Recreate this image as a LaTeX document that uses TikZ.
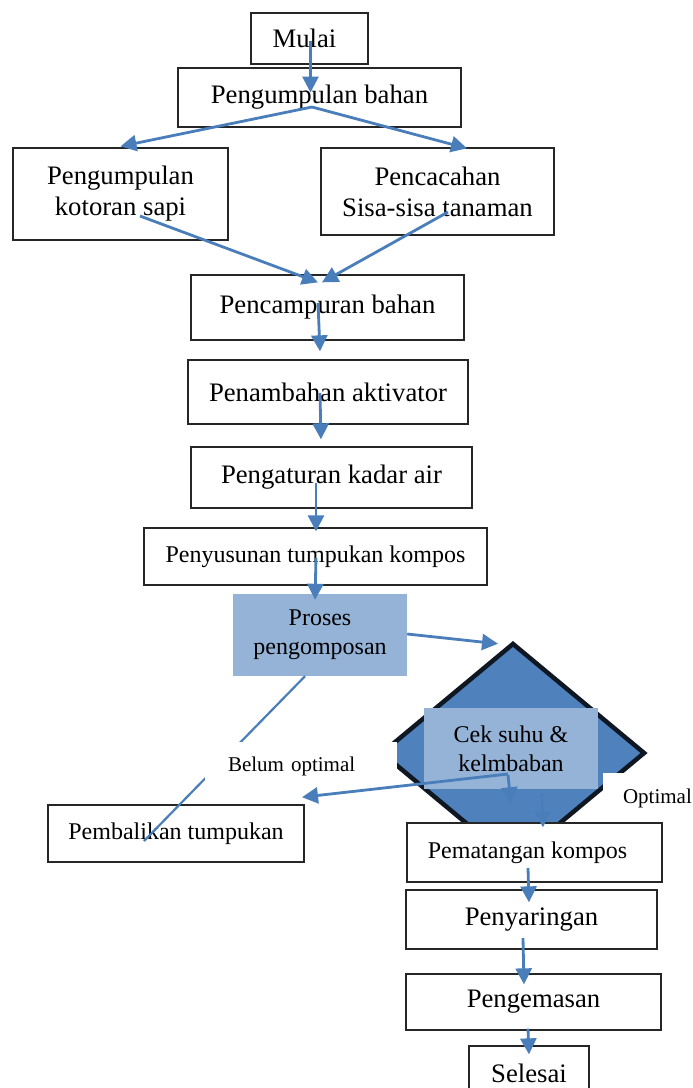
\documentclass[tikz,border=0pt]{standalone}
\usepackage{fontspec}
\setmainfont{Liberation Serif}
\usetikzlibrary{arrows.meta,shapes.geometric,calc}
\definecolor{garisbiru}{HTML}{4A7EBB}
\definecolor{birumuda}{HTML}{95B3D7}
\definecolor{birutua}{HTML}{4F81BD}
\definecolor{tepi}{HTML}{0F1722}
\newcommand{\besar}{\fontsize{26.7}{31}\selectfont}
\newcommand{\sedang}{\fontsize{24}{29}\selectfont}
\newcommand{\kecil}{\fontsize{21}{25}\selectfont}

\begin{document}
\begin{tikzpicture}[x=1pt,y=-1pt,
    kotak/.style={draw=black!85,line width=1.3pt,fill=white,inner sep=0pt,align=center,font=\besar},
    isian/.style={fill=birumuda,inner sep=0pt,align=center,font=\sedang},
    keterangan/.style={fill=white,inner ysep=0pt,align=left,font=\kecil},
    panah/.style={draw=garisbiru,line width=2.8pt,-{Triangle[length=16pt,width=16pt]}}]
    \useasboundingbox (0,0) rectangle (693,1088);

    % tahap awal
    \node [kotak,minimum width=117pt,minimum height=51pt] (mulai) at (309.5,38.5) {Mulai\hspace*{10pt}};
    \node [kotak,minimum width=283pt,minimum height=59pt] (bahan) at (319.5,97.5) {Pengumpulan bahan};
    \node [kotak,minimum width=215pt,minimum height=92pt] (kotoran) at (120.5,194) {Pengumpulan\\kotoran sapi};
    \node [kotak,minimum width=233pt,minimum height=87pt] (cacah) at (437.5,191.5) {Pencacahan\\Sisa-sisa tanaman};
    \node [kotak,minimum width=273pt,minimum height=65pt] (campur) at (327.5,307.5) {Pencampuran bahan};
    \node [kotak,minimum width=280pt,minimum height=64pt] (tambah) at (328,392) {Penambahan aktivator};
    \node [kotak,minimum width=281pt,minimum height=61pt] (kadar) at (331.5,477.5) {Pengaturan kadar air};
    \node [kotak,font=\sedang,minimum width=343pt,minimum height=57pt] (susun) at (315.5,556.5) {Penyusunan tumpukan kompos};

    % proses dan pengecekan
    \node [isian,minimum width=174pt,minimum height=82pt] (proses) at (320,635) {Proses\\pengomposan};
    \node [diamond,draw=tepi,line width=4.5pt,fill=birutua,inner sep=0pt,minimum width=264pt,minimum height=220pt] (ketupat) at (513,753) {};
    \node [isian,minimum width=174pt,minimum height=81pt] (cek) at (511,748.5) {Cek suhu \&\\kelmbaban};
    \node [kotak,font=\sedang,minimum width=256pt,minimum height=57pt] (balik) at (176,833.5) {Pembalikan tumpukan};
    \draw [draw=garisbiru,line width=2.2pt] ($(proses.south)+(-15,0)$) -- ($(balik.center)+(-32,7.5)$);
    \node [keterangan,text width=146pt,inner xsep=23pt,minimum height=48pt] (belum) at (301,766) {Belum optimal};
    \node [keterangan,text width=70pt,inner xsep=20pt,minimum height=50pt] (optimal) at (658,798) {Optimal};

    % tahap akhir
    \node [kotak,font=\sedang,minimum width=255pt,minimum height=59pt] (matang) at (534.5,852.5) {Pematangan kompos\hspace*{14pt}};
    \node [kotak,minimum width=251pt,minimum height=59pt] (saring) at (531.5,919.5) {Penyaringan};
    \node [kotak,minimum width=255pt,minimum height=56pt] (kemas) at (533.5,1002) {Pengemasan};
    \node [kotak,minimum width=120pt,minimum height=54pt] (selesai) at (529,1073) {Selesai};

    % panah
    \draw [panah] ($(mulai.center)+(1,2)$) -- ($(bahan.center)+(-9,-5)$);
    \draw [panah] ($(bahan.center)+(-7.5,9.5)$) -- ($(kotoran.north)+(0,-1)$);
    \draw [panah] ($(bahan.center)+(-7.5,9.5)$) -- ($(cacah.north)+(29.5,1)$);
    \draw [panah] ($(kotoran.center)+(19.5,22)$) -- ($(campur.north)+(-9.5,8)$);
    \draw [panah] ($(cacah.center)+(10.5,20.5)$) -- ($(campur.north)+(-5.5,8)$);
    \draw [panah] ($(campur.center)+(-9.5,-4.5)$) -- ($(tambah.north)+(-8,-8)$);
    \draw [panah] ($(tambah.center)+(-8,1)$) -- ($(kadar.north)+(-10.5,-7)$);
    \draw [panah] ($(kadar.center)+(-15.5,5.5)$) -- ($(susun.north)+(0.5,4)$);
    \draw [panah] ($(susun.center)+(0.5,1.5)$) -- ($(proses.north)+(-5,6)$);
    \draw [panah] ($(proses.east)+(0,-1)$) -- ($(ketupat.north)+(-15,3)$);
    \draw [panah] ($(cek.center)+(-3,25.5)$) -- ($(belum.south)+(1,7)$);
    \draw [panah] ($(cek.center)+(-3,26.5)$) -- ($(cek.south)+(0,14)$);
    \draw [panah] ($(cek.south)+(31,4)$) -- ($(matang.north)+(8.5,5)$);
    \draw [panah] ($(matang.center)+(-6.5,15.5)$) -- ($(saring.north)+(-2.5,13)$);
    \draw [panah] ($(saring.center)+(-8.5,18.5)$) -- ($(kemas.north)+(-9.5,11)$);
    \draw [panah] ($(kemas.south)+(-5.5,-2)$) -- ($(selesai.north)+(0,9)$);
\end{tikzpicture}
\end{document}
